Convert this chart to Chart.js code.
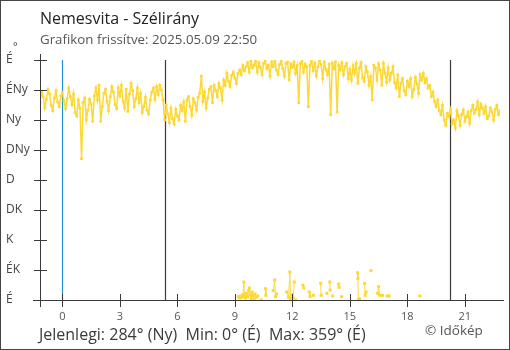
<!DOCTYPE html>
<html><head><meta charset="utf-8">
<script src="https://cdn.jsdelivr.net/npm/chart.js@4/dist/chart.umd.min.js"></script>
<style>html,body{margin:0;padding:0;background:#fff}#wrap{width:510px;height:350px;position:relative}</style>
</head><body><div id="wrap"><canvas id="c" width="510" height="350"></canvas></div>
<script>
const titleText = "Nemesvita - Szélirány";
const updatedText = "Grafikon frissítve: 2025.05.09 22:50";
const summaryText = "Jelenlegi: 284° (Ny)  Min: 0° (É)  Max: 359° (É)";
const creditText = "© Időkép";

// sampling grid: 22:50 previous day to 22:50, every 5 minutes (hours relative to midnight)
const startHour = -70 / 60;
const stepMinutes = 5;

// wind direction (degrees) every 5 minutes
const directionDeg = [
  296,312,305,288,301,316,309,292,284,303,314,297,290,306,
  311,299,287,302,318,305,293,309,281,276,300,288,
  212,296,303,270,285,301,294,268,306,318,300,322,
  268,290,310,316,298,284,305,320,312,293,287,318,
  306,322,298,288,316,283,309,325,314,290,302,318,
  296,310,281,290,304,285,279,300,312,318,301,320,
  308,322,315,300,270,292,279,266,288,272,264,286,
  276,270,292,284,297,268,300,305,290,277,302,296,
  285,304,310,336,298,312,288,303,316,320,296,322,
  314,305,325,318,300,330,322,340,328,320,337,342,
  333,325,340,345,338,352,344,350,356,342,358,348,
  352,358,342,356,349,338,355,359,347,352,336,357,
  350,358,345,338,353,359,347,336,355,357,330,354,
  349,357,340,352,296,355,358,342,354,350,290,352,
  358,344,355,336,350,359,353,332,357,346,338,354,
  278,355,347,357,282,352,345,356,338,350,355,332,
  346,330,352,340,355,325,348,356,333,328,350,342,
  322,335,300,352,348,330,354,345,322,355,340,327,
  348,330,340,350,326,318,338,305,325,332,314,308,
  328,320,332,305,316,334,324,310,338,330,340,326,
  332,318,322,305,312,298,290,300,284,278,292,270,
  262,280,275,286,264,270,258,284,276,262,278,285,
  268,275,282,265,284,292,280,286,297,278,294,288,
  280,290,272,276,288,282,270,286,292,278,284
];

// readings just past north (drawn at the bottom), hour and degrees; null breaks the line
const northHours = [9.18,9.24,9.30,9.36,9.42,9.47,9.50,9.55,9.60,9.66,9.72,9.76,9.80,9.85,9.90,9.95,10.00,10.05,10.12,10.20,10.30,
  10.38,10.45,10.60,10.62,10.80,11.00,11.08,11.12,11.18,11.40,11.70,11.80,11.87,11.90,11.95,12.05,12.10,12.14,12.18,12.30,
  12.55,12.60,12.75,12.88,12.92,13.00,13.10,13.30,13.48,13.50,13.65,13.80,13.88,13.95,13.97,14.03,14.10,14.25,14.42,14.44,14.50,14.57,15.00,
  15.40,15.42,15.44,15.50,15.65,15.77,15.80,15.85,16.00,16.10,16.30,16.45,16.50,16.55,16.70,16.85,16.95,17.05,17.50,18.65];
const northDeg = [5,3,6,4,8,27,6,3,10,5,14,18,8,2,12,6,0,9,4,6,null,
  0,null,17,7,null,14,30,5,9,null,12,4,42,2,8,3,27,null,0,null,
  22,18,null,12,5,null,7,null,25,7,null,10,null,27,15,null,6,null,24,19,null,5,null,
  41,32,0,2,null,25,7,12,null,44,null,10,20,7,7,null,6,6,null,6];

const dirTickValues = [0,45,90,135,180,225,270,315,360];
const dirTickLabels = ["É","ÉK","K","DK","D","DNy","Ny","ÉNy","É"];
const hourTicks = [0,3,6,9,12,15,18,21];
const midnightHour = 0;
const sunriseHour = 5 + 20/60;
const sunsetHour = 20 + 13/60;

const lineColor = '#FDD835';
const mainPoints = directionDeg.map((v,i)=>({x: startHour + i*stepMinutes/60, y: v}));
const northPoints = northHours.map((h,i)=>({x: h, y: northDeg[i]}));

const FONT = '"Open Sans", "Noto Sans", sans-serif';

const decor = {
  id: 'decor',
  beforeDatasetsDraw(chart){
    const {ctx, chartArea:a, scales:{x}} = chart;
    ctx.save();
    ctx.lineWidth = 1.2;
    const vl = (h,c)=>{ const px = Math.round(x.getPixelForValue(h))+0.5; ctx.strokeStyle=c; ctx.beginPath(); ctx.moveTo(px,a.top); ctx.lineTo(px,a.bottom); ctx.stroke(); };
    vl(midnightHour,'#2391dc');
    vl(sunriseHour,'#3a3a3a');
    vl(sunsetHour,'#3a3a3a');
    ctx.restore();
  },
  afterDraw(chart){
    const {ctx, chartArea:a, scales:{x,y}} = chart;
    ctx.save();
    ctx.strokeStyle = '#3a3a3a';
    ctx.lineWidth = 1;
    const L = Math.round(a.left)+0.5, B = Math.round(a.bottom)+0.5;
    ctx.beginPath();
    ctx.moveTo(L, a.top-6); ctx.lineTo(L, a.bottom+7);
    ctx.moveTo(a.left-7, B); ctx.lineTo(a.right+4, B);
    dirTickValues.forEach(v=>{ const py=Math.round(y.getPixelForValue(v))+0.5; ctx.moveTo(a.left-6,py); ctx.lineTo(a.left+7,py); });
    hourTicks.forEach(v=>{ const px=Math.round(x.getPixelForValue(v))+0.5; ctx.moveTo(px,a.bottom-6); ctx.lineTo(px,a.bottom+7); });
    ctx.stroke();
    ctx.strokeStyle = '#444';
    ctx.strokeRect(0.5,0.5,509,349);
    ctx.textBaseline = 'alphabetic';
    ctx.textAlign = 'left';
    ctx.fillStyle = '#222';
    ctx.font = '16px ' + FONT;
    ctx.fillText(titleText, 40, 24);
    ctx.fillStyle = '#555';
    ctx.font = '13.3px ' + FONT;
    ctx.fillText(updatedText, 40, 44);
    ctx.fillStyle = '#444';
    ctx.font = '11px ' + FONT;
    ctx.fillText('°', 13, 50);
    ctx.fillStyle = '#3a3a3a';
    ctx.font = '16px ' + FONT;
    ctx.fillText(summaryText, 39, 340);
    ctx.fillStyle = '#555';
    ctx.font = '13.5px ' + FONT;
    ctx.fillText(creditText, 425, 335);
    ctx.restore();
  }
};

new Chart(document.getElementById('c'), {
  type: 'line',
  data: {
    datasets: [
      { data: mainPoints, borderColor: lineColor, backgroundColor: lineColor, borderWidth: 1.5,
        pointStyle: 'rect', pointRadius: 1.9, pointBorderWidth: 0, pointBackgroundColor: lineColor, spanGaps: false },
      { data: northPoints, borderColor: lineColor, backgroundColor: lineColor, borderWidth: 1,
        pointStyle: 'rect', pointRadius: 2.1, pointBorderWidth: 0, pointBackgroundColor: lineColor, spanGaps: false }
    ]
  },
  options: {
    responsive: false, animation: false, devicePixelRatio: 1,
    layout: { padding: { left: 6, right: 10, top: 60, bottom: 12 } },
    plugins: { legend: { display: false }, tooltip: { enabled: false }, title: { display: false } },
    scales: {
      x: {
        type: 'linear', min: startHour, max: startHour + 24,
        afterBuildTicks: s => { s.ticks = hourTicks.map(v=>({value:v})); },
        afterFit: s => { s.height = 38; },
        grid: { display: false, drawTicks: false }, border: { display: false },
        ticks: { autoSkip: false, maxRotation: 0, padding: 10, color: '#555', font: { family: FONT, size: 11 },
          callback: v => String(v) }
      },
      y: {
        min: 0, max: 360,
        afterBuildTicks: s => { s.ticks = dirTickValues.map(v=>({value:v})); },
        afterFit: s => { s.width = 34; },
        grid: { display: false, drawTicks: false }, border: { display: false },
        ticks: { autoSkip: false, crossAlign: 'far', padding: 4, color: '#444', font: { family: FONT, size: 12 },
          callback: v => dirTickLabels[dirTickValues.indexOf(v)] }
      }
    }
  },
  plugins: [decor]
});
</script></body></html>
